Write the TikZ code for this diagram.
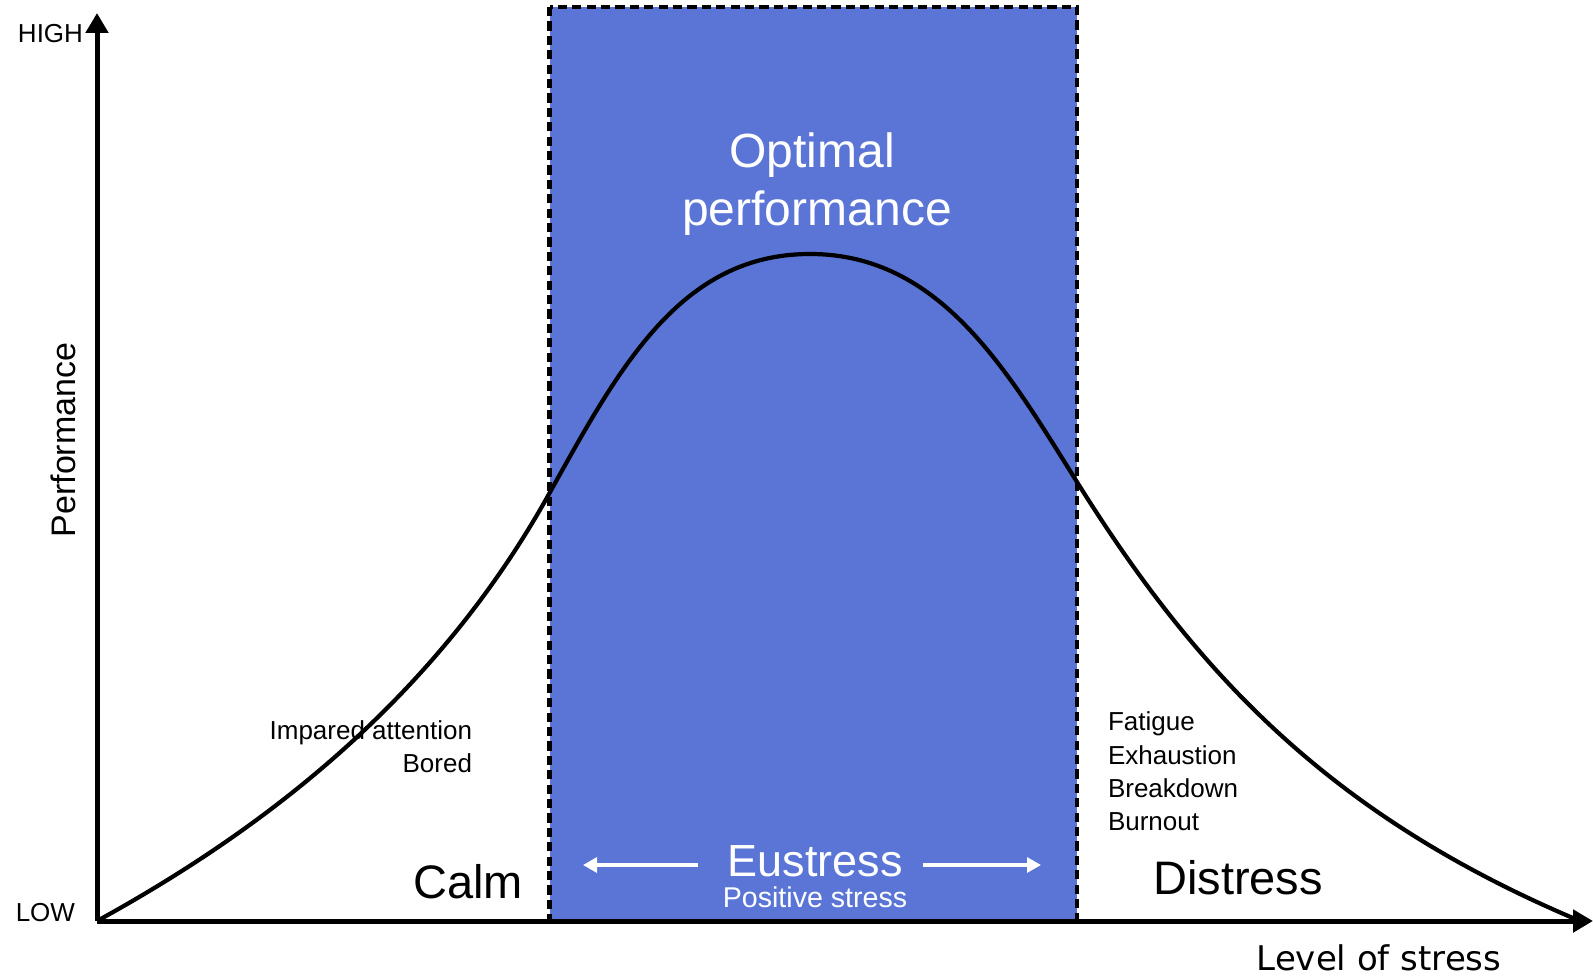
\documentclass[tikz,border=0pt]{standalone}
\usepackage{fontspec}
\setmainfont{Liberation Sans}
\newfontfamily\dejavu{DejaVu Sans}
\usetikzlibrary{arrows.meta}
\definecolor{zoneblue}{RGB}{90,117,213}
\begin{document}
\begin{tikzpicture}[x=0.5pt,y=-0.5pt,
  txt/.style={inner sep=0pt, outer sep=0pt},
  axisline/.style={line width=2.5pt, -{Triangle[width=11pt,length=10pt]}},
  zone/.style={fill=zoneblue, draw=black, line width=2.4pt, dash pattern=on 4.6pt off 2.6pt},
  curveline/.style={line width=2.1pt, line join=round},
  whitearrow/.style={draw=white, line width=1.6pt, -{Triangle[width=7.5pt,length=7pt]}}]
\useasboundingbox (0,0) rectangle (1593,979);

% optimal zone
\draw[zone] (549.5,7) rectangle (1077,921);

% performance curve: rising flank, plateau, falling flank
\coordinate (c0) at (97,921);
\coordinate (c1) at (549,494);
\coordinate (c2) at (810,254);
\coordinate (c3) at (1077,482);
\coordinate (c4) at (1580,921);
\draw[curveline] (c0) .. controls (247,838.5) and (429,710) .. (c1)
  .. controls (619,368) and (680,254) .. (c2)
  .. controls (940,254) and (1007,370) .. (c3)
  .. controls (1197,674) and (1330,816) .. (c4);

% axes
\coordinate (O) at (97,921);
\coordinate (xend) at (1593,921);
\coordinate (yend) at (97,13);
\draw[axisline] (O) -- (xend);
\draw[axisline] (O) -- (yend);

% axis labels
\node[txt, anchor=base east, font=\fontsize{13}{15}\selectfont] (high) at (83,43) {HIGH};
\node[txt, anchor=base east, font=\fontsize{13}{15}\selectfont] (low) at (75,921) {LOW};
\node[txt, anchor=base, rotate=90, font=\fontsize{17}{20}\selectfont] (perf) at (75,440) {Performance};
\node[txt, anchor=base, font=\dejavu\fontsize{17}{20}\selectfont] (level) at (1379,970) {Level of stress};

% zone titles
\node[txt, anchor=base, text=white, font=\fontsize{24}{29}\selectfont] (opt1) at (812,167) {Optimal};
\node[txt, anchor=base, text=white, font=\fontsize{24}{29}\selectfont] (opt2) at (817,225) {performance};

\node[txt, anchor=base, font=\fontsize{23.5}{28}\selectfont] (calm) at (468,898) {Calm};
\node[txt, anchor=base, font=\fontsize{23.5}{28}\selectfont] (distress) at (1238,894) {Distress};
\node[txt, anchor=base, text=white, font=\fontsize{22.5}{27}\selectfont] (eu) at (815,876) {Eustress};
\node[txt, anchor=base, text=white, font=\fontsize{14.3}{17}\selectfont] (pos) at (815,907) {Positive stress};

% eustress arrows
\coordinate (la1) at (698,865);
\coordinate (la2) at (583,865);
\coordinate (ra1) at (923,865);
\coordinate (ra2) at (1041,865);
\draw[whitearrow] (la1) -- (la2);
\draw[whitearrow] (ra1) -- (ra2);

% side notes
\node[txt, anchor=base east, font=\fontsize{13}{15}\selectfont] (imp) at (472,739) {Impared attention};
\node[txt, anchor=base east, font=\fontsize{13}{15}\selectfont] (bored) at (472,772) {Bored};
\node[txt, anchor=base west, font=\fontsize{13}{15}\selectfont] (fat) at (1108,730) {Fatigue};
\node[txt, anchor=base west, font=\fontsize{13}{15}\selectfont] (exh) at (1108,764) {Exhaustion};
\node[txt, anchor=base west, font=\fontsize{13}{15}\selectfont] (brk) at (1108,797) {Breakdown};
\node[txt, anchor=base west, font=\fontsize{13}{15}\selectfont] (burn) at (1108,830) {Burnout};
\end{tikzpicture}
\end{document}
